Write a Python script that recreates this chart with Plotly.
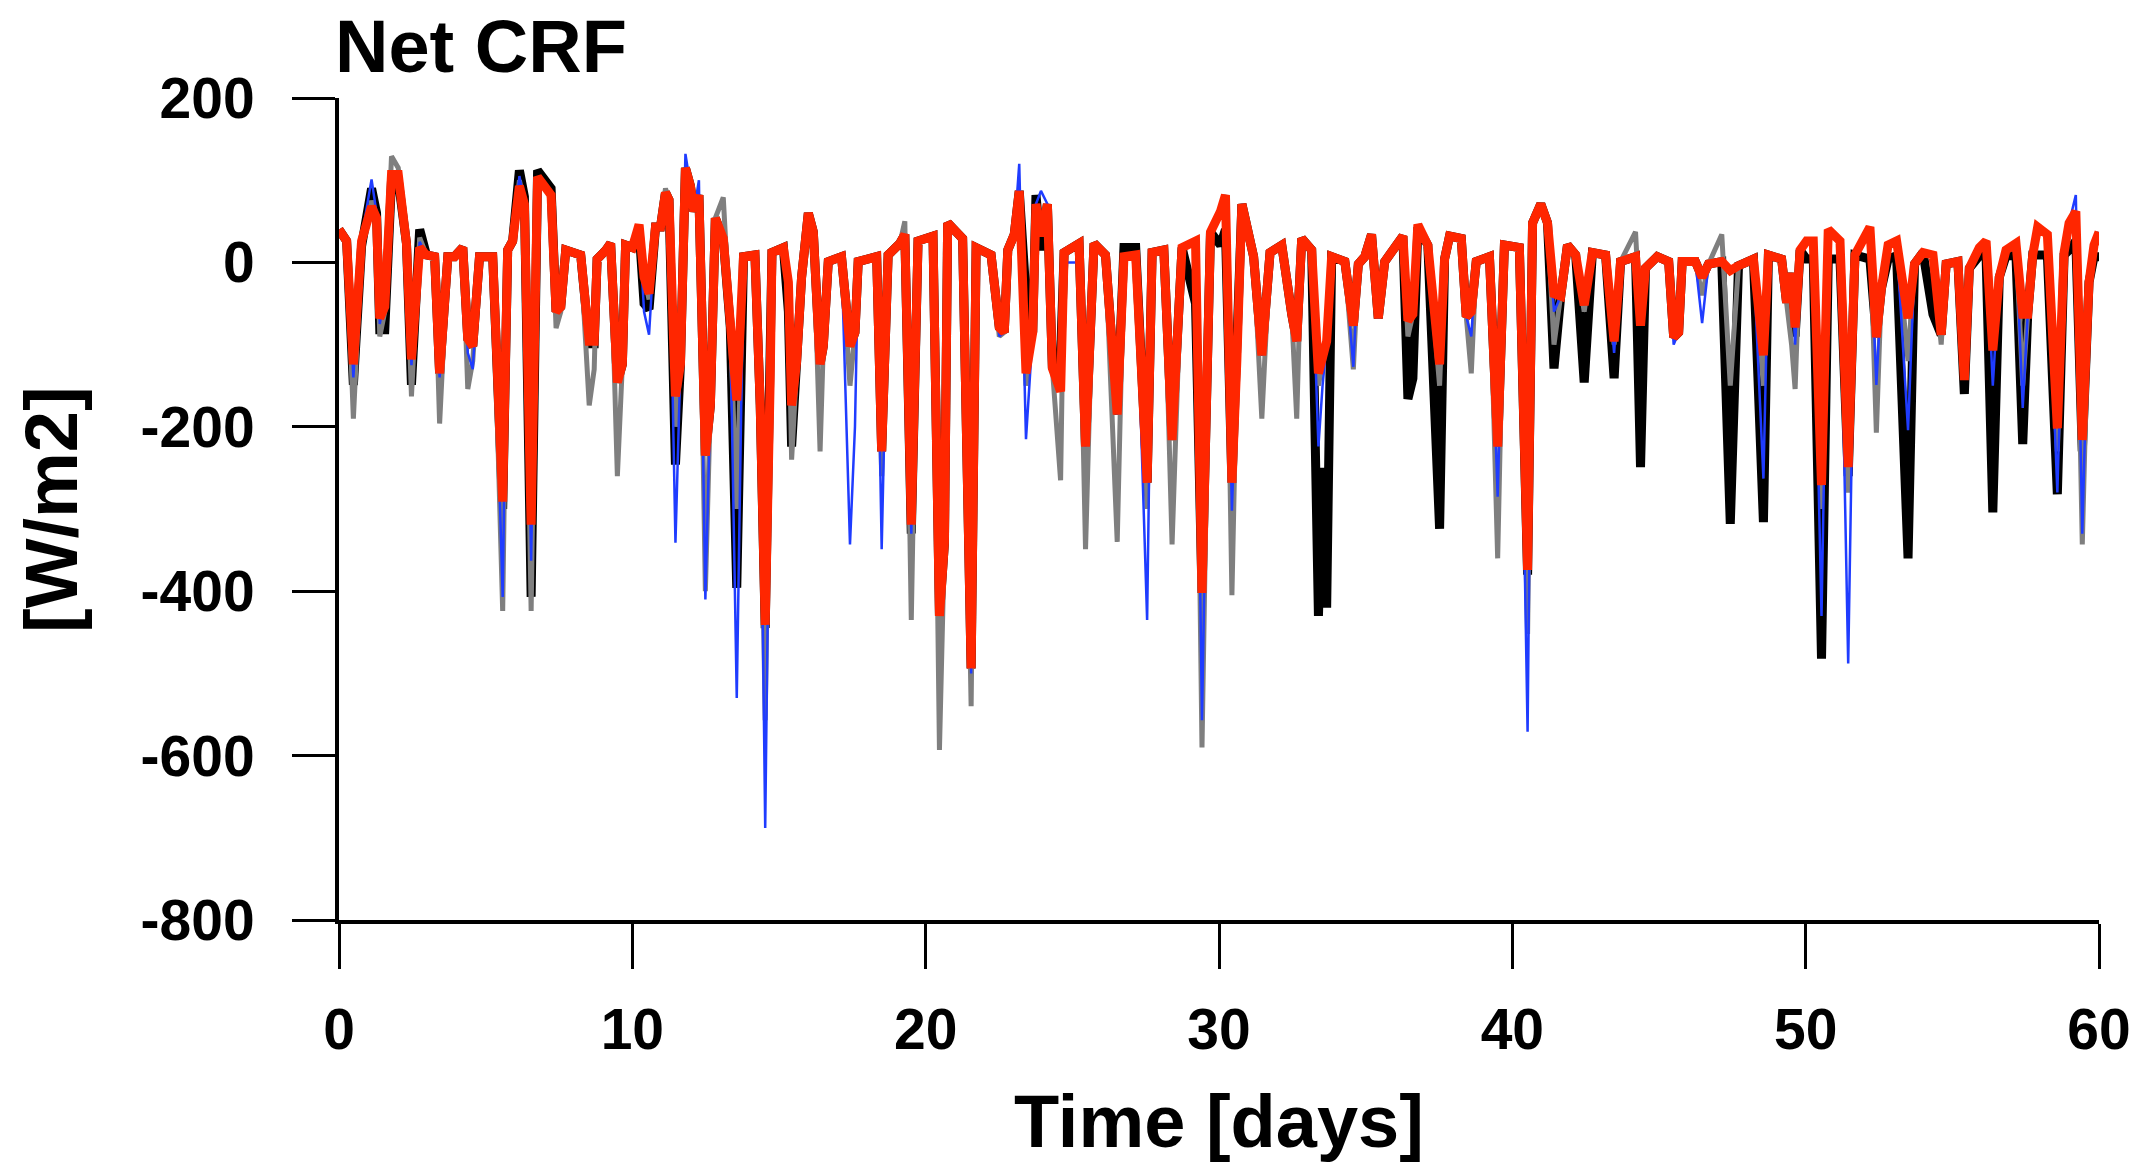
import plotly.graph_objects as go

days = [0.0, 0.26, 0.49, 0.77, 1.11, 1.28, 1.39, 1.56, 1.79, 2.02, 2.3, 2.47, 2.75, 2.98, 3.26, 3.43, 3.71, 3.94,
        4.22, 4.39, 4.56, 4.79, 5.24, 5.58, 5.75, 5.92, 6.15, 6.32, 6.55, 6.77, 7.23, 7.4, 7.56, 7.73, 8.24, 8.53,
        8.7, 8.8, 9.1, 9.26, 9.49, 9.66, 9.77, 10.0, 10.23, 10.4, 10.57, 10.79, 10.96, 11.13, 11.25, 11.47, 11.64,
        11.81, 11.98, 12.1, 12.27, 12.49, 12.66, 12.83, 13.1, 13.34, 13.56, 13.79, 14.18, 14.36, 14.53, 14.7, 14.76,
        15.15, 15.32, 15.43, 15.6, 15.77, 16.0, 16.17, 16.4, 16.51, 16.68, 17.13, 17.42, 17.59, 17.7, 18.33, 18.5,
        18.72, 19.12, 19.29, 19.51, 19.74, 20.25, 20.47, 20.64, 20.75, 21.26, 21.55, 21.72, 22.23, 22.51, 22.68,
        22.8, 23.02, 23.19, 23.42, 23.65, 23.76, 23.93, 24.15, 24.32, 24.6, 24.72, 25.23, 25.45, 25.74, 26.13,
        26.53, 26.76, 27.16, 27.55, 27.72, 28.12, 28.4, 28.74, 29.2, 29.42, 29.71, 30.05, 30.22, 30.44, 30.61,
        30.78, 31.18, 31.46, 31.74, 32.14, 32.48, 32.65, 32.82, 33.16, 33.39, 33.53, 33.67, 33.84, 34.29, 34.58,
        34.75, 34.97, 35.2, 35.43, 35.65, 36.27, 36.44, 36.61, 36.78, 37.12, 37.52, 37.69, 37.86, 38.26, 38.43,
        38.6, 38.77, 39.22, 39.5, 39.73, 40.24, 40.52, 40.69, 40.97, 41.2, 41.42, 41.65, 41.88, 42.16, 42.45,
        42.73, 43.18, 43.47, 43.69, 44.2, 44.37, 44.54, 44.94, 45.33, 45.5, 45.67, 45.79, 46.24, 46.47, 46.69,
        47.14, 47.43, 47.71, 48.22, 48.56, 48.73, 49.18, 49.35, 49.52, 49.64, 49.81, 50.03, 50.26, 50.54, 50.77,
        51.17, 51.45, 51.68, 52.19, 52.41, 52.58, 52.81, 53.1, 53.49, 53.71, 54.0, 54.34, 54.62, 54.79, 55.19,
        55.41, 55.58, 55.92, 56.15, 56.38, 56.6, 56.83, 57.17, 57.4, 57.57, 57.74, 57.91, 58.24, 58.58, 58.81,
        58.98, 59.21, 59.43, 59.66, 59.83, 60.0]

red = [40, 26, -124, 26, 68, 54, -68, -54, 107, 107, 23, -118, 18, 9, 7, -135, 7, 7,
       18, -93, -102, 7, 7, -291, 15, 26, 93, 71, -319, 104, 82, -60, -54, 15, 9, -96,
       -96, 4, 15, 23, -146, -124, 21, 18, 46, -18, -38, 43, 43, 85, 76, -163, -124,
       115, 93, 62, 82, -235, -174, 54, 29, -79, -168, 7, 9, -174, -441, -141, 12,
       18, -24, -174, -121, -18, 60, 37, -124, -102, 1, 7, -102, -85, 1, 7, -230,
       9, 23, 34, -319, 26, 32, -430, -341, 48, 29, -494, 18, 9, -79, -85,
       15, 34, 87, -135, -85, 71, 32, 71, -129, -157, 12, 23, -224, 23, 9,
       -185, 7, 9, -268, 12, 15, -216, 18, 26, -402, 37, 62, 82, -268, -118,
       71, 7, -113, 12, 21, -63, -96, 29, 15, -135, -110, -96, 7, 1, -77,
       -2, 7, 34, -68, 1, 32, -71, -63, 46, 21, -124, 4, 32, 29, -66,
       -60, 1, 7, -224, 21, 18, -374, 48, 71, 48, -38, -41, 21, 9, -52,
       12, 9, -96, 1, 7, -77, -7, 7, 1, -91, -85, 1, 1, -18, -2,
       1, -10, -4, 4, -113, 9, 4, -49, -13, -79, 15, 26, 26, -271, 40,
       26, -249, 9, 43, -91, -32, 21, 26, -68, -2, 12, 9, -88, -2, 1,
       -143, -7, 18, 26, -107, -18, 15, 23, -63, -63, 9, 43, 34, -202, 12,
       48, 62, -216, -24, 21, 37]

black = [40, 26, -149, 20, 90, 60, -82, -82, 100, 100, 23, -149, 40, 9, 7, -135, 7, 7,
         18, -93, -102, 7, 7, -300, 15, 26, 112, 80, -407, 112, 90, -60, -54, 15, 9, -99,
         -99, 4, 15, 23, -146, -124, 21, 18, 40, -50, -57, 43, 43, 85, 76, -246, -124,
         115, 93, 62, 82, -235, -174, 54, 29, -79, -396, 7, 9, -174, -445, -141, 12,
         18, -60, -224, -121, -18, 60, 37, -124, -102, 1, 7, -102, -85, 1, 7, -230,
         9, 23, 34, -330, 26, 32, -430, -341, 48, 29, -494, 18, 9, -79, -85,
         15, 34, 87, -40, -85, 82, 15, 71, -129, -113, 12, 23, -224, 23, 9,
         -185, 18, 18, -268, 12, 15, -216, 18, -50, -402, 37, 21, 40, -268, -118,
         71, 7, -113, 12, 21, -63, -96, 29, 15, -430, -250, -420, 7, 1, -77,
         -2, 7, 34, -68, 1, 32, -166, -141, 43, 21, -324, 4, 32, 29, -66,
         -60, 1, 7, -224, 21, 18, -380, 48, 71, 48, -129, -41, 21, 9, -146,
         12, 9, -141, 1, 7, -249, -7, 7, 1, -91, -85, 1, 1, -18, -2,
         1, -318, -4, 4, -316, 9, 4, -49, -13, -90, 15, 4, 4, -482, 4,
         4, -260, 9, 4, -91, -32, 4, 8, -360, -2, 12, -63, -88, -2, 1,
         -160, -7, 8, 8, -304, -18, 8, 8, -221, -63, 9, 9, 9, -282, 9,
         15, 26, -230, -24, 7, 7]

gray = [40, 26, -190, 20, 75, 54, -90, -60, 129, 115, 23, -163, 30, 9, 7, -196, 7, 7,
        18, -154, -120, 7, 7, -424, 15, 26, 100, 71, -424, 104, 82, -80, -60, 15, 9, -174,
        -130, 4, 15, 23, -260, -124, 21, 18, 46, -18, -45, 43, 43, 90, 76, -200, -124,
        115, 93, 62, 82, -400, -174, 54, 79, -79, -300, 7, 9, -174, -557, -141, 12,
        18, -24, -240, -121, -18, 60, 37, -230, -102, 1, 7, -150, -85, 1, 7, -260,
        9, 23, 50, -435, 26, 32, -593, -341, 48, 29, -540, 18, 9, -90, -85,
        15, 34, 87, -150, -85, 71, 32, 71, -129, -265, 12, 23, -349, 23, 9,
        -340, 7, 9, -300, 12, 15, -343, 18, 26, -590, 37, 62, 82, -405, -118,
        71, 7, -190, 12, 21, -63, -190, 29, 15, -150, -120, -96, 7, 1, -130,
        -2, 7, 34, -68, 1, 32, -90, -63, 46, 21, -150, 4, 32, 29, -66,
        -135, 1, 7, -360, 21, 18, -452, 48, 71, 48, -100, -41, 21, 9, -60,
        12, 9, -100, 1, 37, -77, -7, 7, 1, -91, -85, 1, 1, -40, -2,
        34, -150, -4, 4, -150, 9, 4, -49, -100, -154, 15, 26, 26, -300, 40,
        26, -280, 9, 43, -207, -32, 21, 26, -120, -2, 12, 9, -100, -2, 1,
        -143, -7, 18, 26, -107, -18, 15, 23, -150, -63, 9, 43, 34, -230, 12,
        48, 62, -343, -24, 21, 37]

blue = [40, 26, -140, 30, 101, 60, -75, -40, 105, 107, 23, -125, 25, 9, 7, -140, 7, 7,
        18, -110, -130, 7, 7, -407, 15, 26, 105, 71, -363, 104, 82, -60, -40, 15, 9, -96,
        -96, 4, 15, 23, -146, -124, 21, 18, 46, -60, -88, 43, 43, 85, 76, -341, -124,
        132, 93, 62, 100, -410, -174, 54, 29, -79, -530, 7, 9, -174, -688, -141, 12,
        18, -24, -174, -121, -18, 60, 37, -124, -102, 1, 7, -343, -200, 1, 7, -349,
        9, 23, 34, -330, 26, 32, -430, -341, 48, 29, -500, 18, 9, -90, -85,
        15, 34, 120, -215, -85, 71, 87, 71, -129, -157, 0, 0, -224, 23, 9,
        -185, 7, 9, -435, 12, 15, -216, 18, 26, -557, 37, 62, 82, -302, -118,
        71, 7, -113, 12, 21, -63, -96, 29, 15, -224, -150, -96, 7, 1, -127,
        -2, 7, 34, -68, 1, 32, -71, -63, 46, 21, -124, 4, 32, 29, -66,
        -90, 1, 7, -285, 21, 18, -571, 48, 71, 48, -60, -41, 21, 9, -52,
        12, 9, -110, 1, 7, -77, -7, 7, 1, -100, -85, 1, 1, -74, -2,
        1, -10, -4, 4, -263, 9, 4, -49, -13, -100, 15, 26, 26, -430, 40,
        26, -488, 9, 43, -149, -32, 21, 26, -204, -2, 12, 9, -88, -2, 1,
        -143, -7, 18, 26, -150, -18, 15, 23, -177, -63, 9, 43, 34, -280, 12,
        48, 82, -330, -24, 21, 37]

x_ticks = [0, 10, 20, 30, 40, 50, 60]
y_ticks = [200, 0, -200, -400, -600, -800]

FONT = "Liberation Sans"

fig = go.Figure()
fig.add_trace(go.Scatter(x=days, y=black, mode="lines", line=dict(color="#000000", width=9), showlegend=False))
fig.add_trace(go.Scatter(x=days, y=gray, mode="lines", line=dict(color="#7f7f7f", width=5), showlegend=False))
fig.add_trace(go.Scatter(x=days, y=blue, mode="lines", line=dict(color="#1f3cff", width=2.5), showlegend=False))
fig.add_trace(go.Scatter(x=days, y=red, mode="lines", line=dict(color="#ff2600", width=9), showlegend=False))

axis_font = dict(family=FONT, size=57, color="black", weight="bold")

fig.update_layout(
    width=2143, height=1166,
    margin=dict(l=339, r=38, t=98, b=246),
    paper_bgcolor="white", plot_bgcolor="white",
    font=dict(family=FONT, color="black"),
    xaxis=dict(range=[0, 60], tickvals=x_ticks, ticktext=[str(v) for v in x_ticks],
               showline=True, linecolor="black", linewidth=4, ticks="outside", ticklen=45,
               tickwidth=3, tickcolor="black", showgrid=False, zeroline=False,
               tickfont=axis_font, ticklabelstandoff=12),
    yaxis=dict(range=[-800, 200], tickvals=y_ticks, ticktext=[str(v) for v in y_ticks],
               showline=True, linecolor="black", linewidth=4, ticks="outside", ticklen=43,
               tickwidth=3, tickcolor="black", showgrid=False, zeroline=False,
               tickfont=axis_font, ticklabelstandoff=26),
    annotations=[
        dict(text="Net CRF", xref="paper", yref="paper", x=0, y=1 + 52 / 822,
             xanchor="left", yanchor="middle", showarrow=False, xshift=-6,
             font=dict(family=FONT, size=74, color="black", weight="bold")),
        dict(text="Time [days]", xref="paper", yref="paper", x=0.5, y=-(1121 - 920) / 822,
             xanchor="center", yanchor="middle", showarrow=False,
             font=dict(family=FONT, size=74, color="black", weight="bold")),
        dict(text="[W/m2]", xref="paper", yref="paper", x=-(339 - 50) / 1766, y=0.5,
             xanchor="center", yanchor="middle", showarrow=False, textangle=-90,
             font=dict(family=FONT, size=74, color="black", weight="bold")),
    ],
)

fig.write_html("out.html")
